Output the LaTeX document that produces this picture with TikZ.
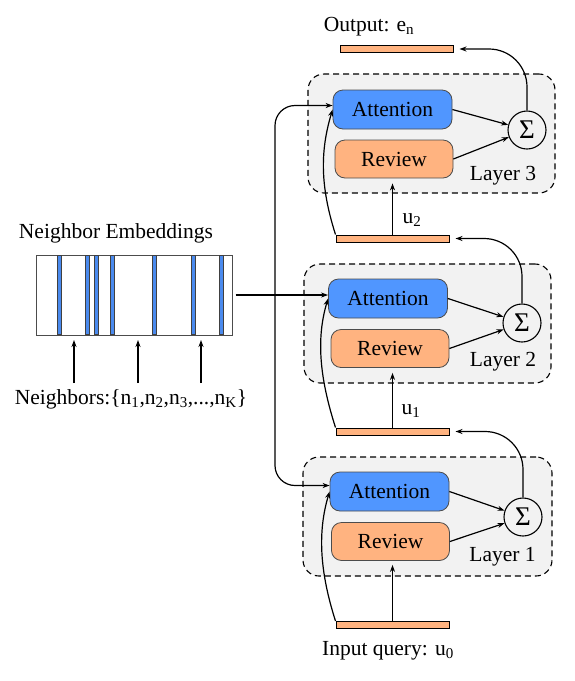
\documentclass[tikz,border=0pt]{standalone}
\usepackage{fontspec}
\setmainfont{Liberation Serif}
\usetikzlibrary{arrows.meta,calc}
\definecolor{attblue}{HTML}{5096FF}
\definecolor{revorange}{HTML}{FFB380}
\definecolor{layergray}{HTML}{F2F2F2}
\definecolor{stripeblue}{HTML}{4A8AEE}
\begin{document}
\begin{tikzpicture}[x=1pt,y=-1pt, font=\fontsize{21.5}{25}\selectfont,
 layerbox/.style={draw, line width=1.1pt, dash pattern=on 6pt off 4pt, fill=layergray, rounded corners=16pt, inner sep=0},
 attbox/.style={draw=black!70, line width=0.8pt, fill=attblue, rounded corners=10pt, minimum width=119pt, minimum height=39pt, inner sep=0},
 revbox/.style={draw=black!70, line width=0.8pt, fill=revorange, rounded corners=10pt, minimum width=118pt, minimum height=38pt, inner sep=0},
 sumnode/.style={circle, draw, line width=1.1pt, minimum size=38pt, inner sep=0, font=\fontsize{27}{27}\selectfont},
 vecbar/.style={draw, line width=1pt, fill=revorange, minimum width=113pt, minimum height=7pt, inner sep=0},
 conn/.style={line width=1.2pt, -{Stealth[length=7pt,width=5pt]}},
 stripe/.style={draw=black!75, line width=0.6pt, fill=stripeblue},
]
\useasboundingbox (0,0) rectangle (575,681);

% layer boxes
\node[layerbox, minimum width=247pt, minimum height=119pt] (L3) at (431.5,133.5) {};
\node[layerbox, minimum width=247pt, minimum height=119pt] (L2) at (427.5,323.5) {};
\node[layerbox, minimum width=249pt, minimum height=119pt] (L1) at (427.5,516.5) {};

% layer 3
\node[attbox] (A3) at (392.5,109.5) {Attention};
\node[revbox] (R3) at (394,159) {Review};
\node[sumnode] (S3) at (527,130) {Σ};
\node at (503,176) {Layer 3};
% layer 2
\node[attbox] (A2) at (388,298.5) {Attention};
\node[revbox] (R2) at (390,348.5) {Review};
\node[sumnode] (S2) at (522,323) {Σ};
\node at (503,362) {Layer 2};
% layer 1
\node[attbox] (A1) at (389.5,491.5) {Attention};
\node[revbox] (R1) at (390.5,541.5) {Review};
\node[sumnode] (S1) at (523,517) {Σ};
\node at (502.5,557) {Layer 1};

% vectors
\node[vecbar] (OB) at (396.5,49) {};
\node[vecbar] (B2) at (392.5,238.5) {};
\node[vecbar] (B1) at (392.5,431.5) {};
\node[vecbar] (B0) at (392.5,625) {};
\node (OL) at (369,27) {Output: e\textsubscript{n}};
\node (U2) at (412,220) {u\textsubscript{2}};
\node (U1) at (411,411) {u\textsubscript{1}};
\node (IL) at (388,651) {Input query: u\textsubscript{0}};

% embeddings
\node (NE) at (116,233) {Neighbor Embeddings};
\node[draw=black!70, line width=1pt, minimum width=196pt, minimum height=80pt, inner sep=0] (E) at (134,295) {};
\foreach \x in {59,87.5,96,112,154,193,221}
  \draw[stripe] (\x-2,255.5) rectangle (\x+2,334.5);
\node (NB) at (131,399) {Neighbors:\{n\textsubscript{1},n\textsubscript{2},n\textsubscript{3},...,n\textsubscript{K}\}};
\foreach \x in {74,138,201}
  \draw[conn] (\x,383) -- (\x,340);

% attention/review to sum
\foreach \i in {1,2,3}{
  \draw[conn] (A\i.east) -- (S\i);
  \draw[conn] (R\i.east) -- (S\i);
}
% bars up to review
\draw[conn, shorten >=5pt] (B2.north) -- (B2.north |- R3.south);
\draw[conn, shorten >=5pt] (B1.north) -- (B1.north |- R2.south);
\draw[conn, shorten >=4pt] (B0.north) -- (B0.north |- R1.south);
% bars to attention (curves)
\draw[conn] (B2.north west) .. controls +(-16,-50) and +(-12,40) .. (A3.west);
\draw[conn] (B1.north west) .. controls +(-16,-50) and +(-12,40) .. (A2.west);
\draw[conn] (B0.north west) .. controls +(-16,-50) and +(-12,40) .. (A1.west);
% sums to next vectors
\draw[conn, rounded corners=38pt] (S3.north) |- ($(OB.east)+(6,0)$);
\draw[conn, rounded corners=38pt] (S2.north) |- ($(B2.east)+(6,0)$);
\draw[conn, rounded corners=38pt] (S1.north) |- ($(B1.east)+(6,0)$);

% neighbor embeddings to attention
\coordinate (hstart) at ($(E.east)+(3,0)$);
\coordinate (split) at (275,295);
\draw[conn] (hstart) -- (hstart -| A2.west);
\draw[conn, rounded corners=20pt] (split) |- ($(A3.west)+(0,-4)$);
\draw[conn, rounded corners=20pt] (split) |- ($(A1.west)+(0,-6)$);
\end{tikzpicture}
\end{document}
